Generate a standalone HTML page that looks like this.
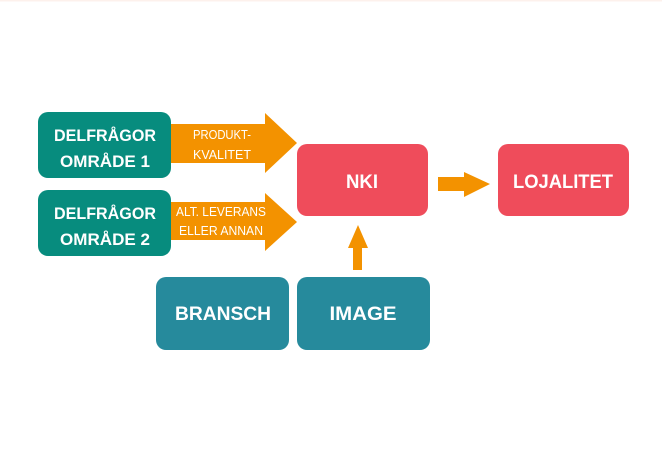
<!DOCTYPE html>
<html><head><meta charset="utf-8"><style>
html,body{margin:0;padding:0;background:#fff;}
svg{display:block}
text{font-family:"Liberation Sans",sans-serif;font-weight:bold;fill:#fff;text-anchor:middle;}
.n{font-weight:normal}
</style></head><body>
<svg width="662" height="460" viewBox="0 0 662 460" xmlns="http://www.w3.org/2000/svg">
<rect x="0" y="0" width="662" height="460" fill="#fff"/>
<rect x="0" y="0" width="662" height="1.5" fill="#fdf1ec"/>
<polygon points="171,124 265,124 265,113 297,143 265,173 265,163 171,163" fill="#f39200"/>
<polygon points="171,202 265,202 265,193 297,222 265,251 265,240 171,240" fill="#f39200"/>
<polygon points="438,177 464,177 464,172 490,184 464,197 464,191 438,191" fill="#f39200"/>
<polygon points="353,270 353,248 348,248 358,225 368,248 362,248 362,270" fill="#f39200"/>
<rect x="38" y="112" width="133" height="66" rx="10" fill="#078c7e"/>
<rect x="38" y="190" width="133" height="66" rx="10" fill="#078c7e"/>
<rect x="297" y="144" width="131" height="72" rx="10" fill="#ef4c5b"/>
<rect x="498" y="144" width="131" height="72" rx="10" fill="#ef4c5b"/>
<rect x="156" y="277" width="133" height="73" rx="10" fill="#268a9c"/>
<rect x="297" y="277" width="133" height="73" rx="10" fill="#268a9c"/>
<text x="105" y="141" font-size="17" textLength="102" lengthAdjust="spacingAndGlyphs">DELFRÅGOR</text>
<text x="105" y="167" font-size="17" textLength="90" lengthAdjust="spacingAndGlyphs">OMRÅDE 1</text>
<text x="105" y="219" font-size="17" textLength="102" lengthAdjust="spacingAndGlyphs">DELFRÅGOR</text>
<text x="105" y="245" font-size="17" textLength="90" lengthAdjust="spacingAndGlyphs">OMRÅDE 2</text>
<text x="222" y="139" font-size="12.5" class="n" textLength="58" lengthAdjust="spacingAndGlyphs">PRODUKT-</text>
<text x="222" y="159" font-size="12.5" class="n" textLength="58" lengthAdjust="spacingAndGlyphs">KVALITET</text>
<text x="221" y="216" font-size="12.5" class="n" textLength="90" lengthAdjust="spacingAndGlyphs">ALT. LEVERANS</text>
<text x="221" y="235" font-size="12.5" class="n" textLength="84" lengthAdjust="spacingAndGlyphs">ELLER ANNAN</text>
<text x="362" y="188" font-size="19" textLength="32" lengthAdjust="spacingAndGlyphs">NKI</text>
<text x="563" y="188" font-size="19" textLength="100" lengthAdjust="spacingAndGlyphs">LOJALITET</text>
<text x="223" y="320" font-size="19" textLength="96" lengthAdjust="spacingAndGlyphs">BRANSCH</text>
<text x="363" y="320" font-size="19" textLength="67" lengthAdjust="spacingAndGlyphs">IMAGE</text>
</svg>
</body></html>
